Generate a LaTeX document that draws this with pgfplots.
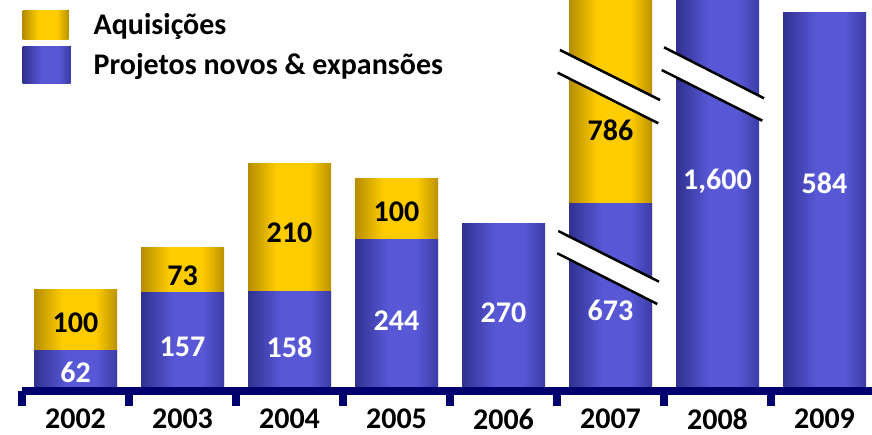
\documentclass[border=0pt]{standalone}
\usepackage{pgfplots}
\pgfplotsset{compat=1.18}
\usepackage{fontspec}
\setmainfont{Carlito}
\definecolor{navy}{RGB}{0,0,110}
\definecolor{bd0}{RGB}{5,5,25}
\definecolor{bd1}{RGB}{35,35,120}
\definecolor{bb}{RGB}{88,88,215}
\definecolor{bd2}{RGB}{45,45,140}
\definecolor{yd0}{RGB}{45,32,0}
\definecolor{yd1}{RGB}{150,115,0}
\definecolor{yb}{RGB}{255,204,0}
\definecolor{yd2}{RGB}{150,115,0}
\pgfdeclarehorizontalshading{bluebar}{100bp}{color(0bp)=(bd0); color(18bp)=(bd1); color(45bp)=(bb); color(62bp)=(bb); color(82bp)=(bd2); color(100bp)=(bd0)}
\pgfdeclarehorizontalshading{yellowbar}{100bp}{color(0bp)=(yd0); color(18bp)=(yd1); color(42bp)=(yb); color(62bp)=(yb); color(82bp)=(yd2); color(100bp)=(yd0)}
\pgfplotsset{
  ybarY/.style={ybar, bar width=83pt, bar shift=0pt, draw=none, shading=yellowbar},
  ybarB/.style={ybar, bar width=83pt, bar shift=0pt, draw=none, shading=bluebar},
}
\begin{document}
\begin{tikzpicture}
\path[use as bounding box] (0,0) rectangle (872pt,434pt);
\begin{axis}[
  at={(22pt,43pt)}, anchor=south west,
  scale only axis, width=850pt, height=391pt,
  xmin=-0.5, xmax=7.444, ymin=-4.92, ymax=636.07,
  axis x line*=bottom, axis y line=none,
  axis line style={line width=8pt, navy},
  axis on top,
  xtick={0,...,7},
  xticklabels={2002,2003,2004,2005,2006,2007,2008,2009},
  major tick length=0pt,
  minor xtick={-0.5,0.5,...,6.5},
  minor tick length=15pt,
  minor tick style={line width=8pt, navy},
  tick align=outside,
  ytick=\empty,
  xticklabel style={font=\fontsize{30}{30}\selectfont\bfseries, anchor=north, inner sep=1pt, yshift=-17pt},
  legend style={at={(-0.003,0.98)}, anchor=north west, draw=none, fill=none,
    font=\fontsize{30}{36}\selectfont\bfseries, row sep=7pt,
    cells={anchor=west},
    /tikz/every odd column/.append style={column sep=21pt}},
  legend cell align=left,
  every node near coord/.append style={anchor=center, font=\fontsize{30}{36}\selectfont\bfseries},
]
% Aquisicoes (total heights; blue drawn over)
\addplot[ybarY,
  legend image code/.code={\fill[shading=yellowbar] (0pt,-14.5pt) rectangle (46pt,14.5pt);}]
  coordinates {(0,162)};
\addlegendentry{Aquisições}
\addplot[ybarY, forget plot] coordinates {(1,230)};
\addplot[ybarY, forget plot] coordinates {(2,368)};
\addplot[ybarY, forget plot] coordinates {(3,344)};
\addplot[ybarY, forget plot] coordinates {(5,1000)};
% Projetos novos & expansoes
\addplot[ybarB,
  legend image code/.code={\fill[shading=bluebar] (0pt,-18.5pt) rectangle (48pt,18.5pt);}]
  coordinates {(0,62)};
\addlegendentry{Projetos novos \& expansões}
\addplot[ybarB, forget plot] coordinates {(1,157)};
\addplot[ybarB, forget plot] coordinates {(2,158)};
\addplot[ybarB, forget plot] coordinates {(3,244)};
\addplot[ybarB, forget plot] coordinates {(4,270)};
\addplot[ybarB, forget plot] coordinates {(5,302)};
\addplot[ybarB, forget plot] coordinates {(6,1000)};
\addplot[ybarB, forget plot] coordinates {(7,616)};
% break marks
\fill[white] (axis cs:4.512,257.4) -- (axis cs:5.453,174.3) -- (axis cs:5.437,137.7) -- (axis cs:4.503,220.8) -- cycle;
\draw[line width=2.5pt] (axis cs:4.512,257.4) -- (axis cs:5.453,174.3);
\draw[line width=2.5pt] (axis cs:4.503,220.8) -- (axis cs:5.437,137.7);
\fill[white] (axis cs:4.528,554.1) -- (axis cs:5.463,472.1) -- (axis cs:5.447,433.9) -- (axis cs:4.506,516.9) -- cycle;
\draw[line width=2.5pt] (axis cs:4.528,554.1) -- (axis cs:5.463,472.1);
\draw[line width=2.5pt] (axis cs:4.506,516.9) -- (axis cs:5.447,433.9);
\fill[white] (axis cs:5.5,558.5) -- (axis cs:6.435,474.9) -- (axis cs:6.419,438.2) -- (axis cs:5.478,521.3) -- cycle;
\draw[line width=2.5pt] (axis cs:5.5,558.5) -- (axis cs:6.435,474.9);
\draw[line width=2.5pt] (axis cs:5.478,521.3) -- (axis cs:6.419,438.2);
% labels
\addplot[draw=none, forget plot, nodes near coords, point meta=explicit symbolic,
  every node near coord/.append style={text=white}]
  coordinates {(0,25)[62] (1,67)[157] (2,67)[158] (3,111)[244] (4,123)[270] (5,128)[673] (6,339)[1{,}600] (7,336)[584]};
\addplot[draw=none, forget plot, nodes near coords, point meta=explicit symbolic,
  every node near coord/.append style={text=black}]
  coordinates {(0,107)[100] (1,184)[73] (2,254)[210] (3,289)[100] (5,423)[786]};
\end{axis}
\end{tikzpicture}
\end{document}
